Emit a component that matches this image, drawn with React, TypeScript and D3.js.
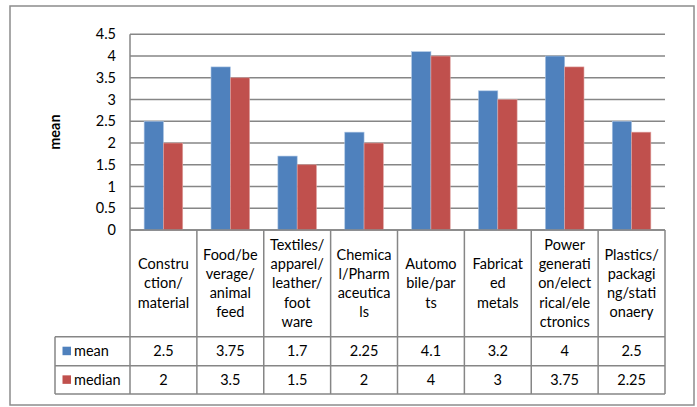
import React from "react";
import * as d3 from "d3";

const categories: string[][] = [
  ["Constru", "ction/", "material"],
  ["Food/be", "verage/", "animal", "feed"],
  ["Textiles/", "apparel/", "leather/", "foot", "ware"],
  ["Chemica", "l/Pharm", "aceutica", "ls"],
  ["Automo", "bile/par", "ts"],
  ["Fabricat", "ed", "metals"],
  ["Power", "generati", "on/elect", "rical/ele", "ctronics"],
  ["Plastics/", "packagi", "ng/stati", "onaery"],
];
const meanValues = [2.5, 3.75, 1.7, 2.25, 4.1, 3.2, 4, 2.5];
const medianValues = [2, 3.5, 1.5, 2, 4, 3, 3.75, 2.25];
const meanLabels = ["2.5", "3.75", "1.7", "2.25", "4.1", "3.2", "4", "2.5"];
const medianLabels = ["2", "3.5", "1.5", "2", "4", "3", "3.75", "2.25"];
const yTicks = [0, 0.5, 1, 1.5, 2, 2.5, 3, 3.5, 4, 4.5];
const seriesNames = ["mean", "median"];
const seriesColors = ["#4F81BD", "#C0504D"];

const W = 697;
const H = 407;
const left = 130;
const right = 665;
const top = 34.3;
const zeroY = 230;
const headerBottom = 336.7;
const row1Bottom = 365.7;
const row2Bottom = 394;
const legendLeft = 55;
const gridColor = "#868686";
const font = "Lato, 'Open Sans', sans-serif";
const fs = 14.5;

export default function App() {
  const x = d3
    .scaleBand<number>()
    .domain(d3.range(categories.length))
    .range([left, right]);
  const y = d3.scaleLinear().domain([0, 4.5]).range([zeroY, top]);
  const inner = d3
    .scaleBand<number>()
    .domain([0, 1])
    .range([0, x.bandwidth()])
    .paddingOuter(0.733);
  const series = [meanValues, medianValues];
  const labels = [meanLabels, medianLabels];
  const rows = [
    [headerBottom, row1Bottom],
    [row1Bottom, row2Bottom],
  ];
  const lineH = 19.1;

  return (
    <svg
      width={W}
      height={H}
      style={{ position: "absolute", left: 0, top: 0, background: "#fff" }}
      fontFamily={font}
    >
      <rect x={10} y={6} width={684} height={399} fill="#fff" stroke="#8c8c8c" strokeWidth={1.5} />

      {/* horizontal gridlines */}
      {yTicks.map((t) => (
        <line
          key={"g" + t}
          x1={left}
          x2={right}
          y1={y(t)}
          y2={y(t)}
          stroke={gridColor}
          strokeWidth={1.5}
        />
      ))}
      {/* y tick labels */}
      {yTicks.map((t) => (
        <text
          key={"t" + t}
          x={116}
          y={y(t)}
          dy="0.35em"
          textAnchor="end"
          fontSize={fs}
          fill="#000"
        >
          {t}
        </text>
      ))}
      <text
        transform={`translate(55,${(top + zeroY) / 2}) rotate(-90)`}
        textAnchor="middle"
        dy="0.35em"
        fontSize={fs}
        fontWeight="bold"
      >
        mean
      </text>
      <line x1={left} x2={left} y1={top} y2={zeroY} stroke={gridColor} strokeWidth={1.5} />

      {/* bars */}
      {series.map((vals, s) =>
        vals.map((v, i) => (
          <rect
            key={`b${s}-${i}`}
            x={(x(i) as number) + (inner(s) as number)}
            y={y(v)}
            width={inner.bandwidth()}
            height={zeroY - y(v)}
            fill={seriesColors[s]}
            stroke={s === 0 ? "#a9c3e3" : "#e0a5a3"}
            strokeWidth={0.6}
          />
        ))
      )}

      {/* data table */}
      <line x1={left} x2={right} y1={zeroY} y2={zeroY} stroke={gridColor} strokeWidth={1.5} />
      {[headerBottom, row1Bottom, row2Bottom].map((yy) => (
        <line key={"r" + yy} x1={legendLeft} x2={right} y1={yy} y2={yy} stroke={gridColor} strokeWidth={1.5} />
      ))}
      {d3.range(categories.length + 1).map((i) => (
        <line
          key={"v" + i}
          x1={left + i * x.step()}
          x2={left + i * x.step()}
          y1={zeroY}
          y2={row2Bottom}
          stroke={gridColor}
          strokeWidth={1.5}
        />
      ))}
      <line x1={legendLeft} x2={legendLeft} y1={headerBottom} y2={row2Bottom} stroke={gridColor} strokeWidth={1.5} />

      {categories.map((lines, i) => {
        const cx = (x(i) as number) + x.bandwidth() / 2;
        const cy = (zeroY + headerBottom) / 2;
        const start = cy - ((lines.length - 1) * lineH) / 2;
        return (
          <text key={"c" + i} textAnchor="middle" fontSize={fs} fill="#000">
            {lines.map((l, k) => (
              <tspan key={k} x={cx} y={start + k * lineH} dy="0.35em">
                {l}
              </tspan>
            ))}
          </text>
        );
      })}

      {seriesNames.map((name, s) => {
        const [r0, r1] = rows[s];
        const cy = (r0 + r1) / 2;
        return (
          <g key={"s" + s}>
            <rect x={62.5} y={cy - 4.5} width={8.5} height={8.5} fill={seriesColors[s]} />
            <text x={74} y={cy} dy="0.35em" fontSize={fs}>
              {name}
            </text>
            {labels[s].map((lab, i) => (
              <text
                key={i}
                x={(x(i) as number) + x.bandwidth() / 2}
                y={cy}
                dy="0.35em"
                textAnchor="middle"
                fontSize={fs}
              >
                {lab}
              </text>
            ))}
          </g>
        );
      })}
    </svg>
  );
}
